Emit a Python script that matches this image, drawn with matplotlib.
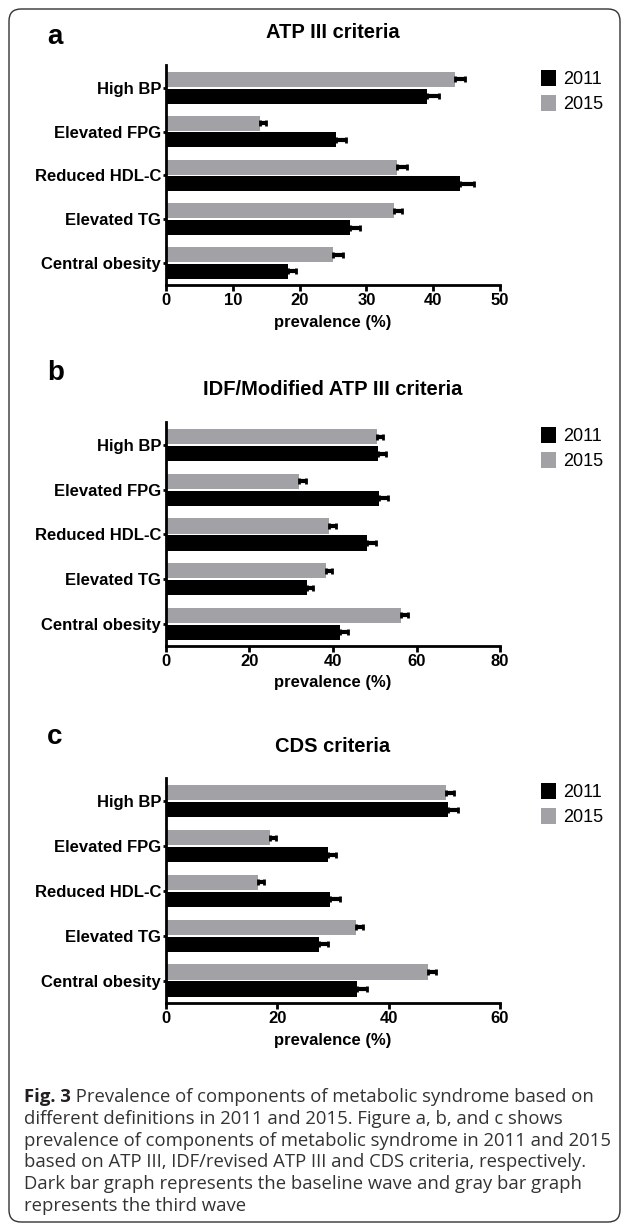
import matplotlib.pyplot as plt
import numpy as np
from matplotlib.patches import FancyBboxPatch, Patch

plt.rcParams["font.family"] = ["Liberation Sans", "DejaVu Sans"]

W, H = 627, 1228

components = ["High BP", "Elevated FPG", "Reduced HDL-C", "Elevated TG", "Central obesity"]
years = ["2011", "2015"]

# ATP III criteria
atp_2011 = [39.1, 25.4, 44.0, 27.5, 18.2]
atp_2015 = [43.2, 14.0, 34.6, 34.1, 25.0]
atp_err_2011 = [1.8, 1.5, 2.1, 1.6, 1.2]
atp_err_2015 = [1.5, 1.0, 1.5, 1.3, 1.5]

# IDF / modified ATP III criteria
idf_2011 = [50.8, 51.0, 48.2, 33.7, 41.7]
idf_2015 = [50.5, 31.8, 39.0, 38.3, 56.2]
idf_err_2011 = [1.9, 2.1, 2.0, 1.5, 1.8]
idf_err_2015 = [1.4, 1.7, 1.6, 1.4, 1.7]

# CDS criteria
cds_2011 = [50.7, 29.1, 29.5, 27.5, 34.4]
cds_2015 = [50.3, 18.7, 16.6, 34.1, 47.0]
cds_err_2011 = [1.8, 1.4, 1.7, 1.6, 1.7]
cds_err_2015 = [1.4, 1.1, 1.0, 1.3, 1.5]

caption_lines = [
    " Prevalence of components of metabolic syndrome based on",
    "different definitions in 2011 and 2015. Figure a, b, and c shows",
    "prevalence of components of metabolic syndrome in 2011 and 2015",
    "based on ATP III, IDF/revised ATP III and CDS criteria, respectively.",
    "Dark bar graph represents the baseline wave and gray bar graph",
    "represents the third wave",
]

GRAY = "#a2a2a6"
AX_LEFT, AX_RIGHT = 166, 500


def fx(px):
    return px / W


def fy(py):
    return 1 - py / H


def draw_panel(fig, top, bottom, letter, letter_y, title, title_y,
               v11, v15, e11, e15, xmax, step):
    ax = fig.add_axes([fx(AX_LEFT), fy(bottom), (AX_RIGHT - AX_LEFT) / W, (bottom - top) / H])
    y = np.arange(len(components))
    zeros = np.zeros(len(components))
    ax.barh(y - 0.19, v15, height=0.34, color=GRAY, zorder=2)
    ax.barh(y + 0.19, v11, height=0.34, color="black", zorder=2)
    ax.errorbar(v15, y - 0.19, xerr=[zeros, e15], fmt="none", ecolor="black",
                elinewidth=3, capsize=2.5, capthick=2, zorder=3)
    ax.errorbar(v11, y + 0.19, xerr=[zeros, e11], fmt="none", ecolor="black",
                elinewidth=3, capsize=2.5, capthick=2, zorder=3)

    ax.set_xlim(0, xmax)
    ax.set_xticks(np.arange(0, xmax + 1, step))
    ax.set_ylim(4.5, -0.52)
    ax.set_yticks(y)
    ax.set_yticklabels(components)
    for s in ["top", "right"]:
        ax.spines[s].set_visible(False)
    for s in ["left", "bottom"]:
        ax.spines[s].set_linewidth(2)
    ax.tick_params(axis="x", width=2, length=4, labelsize=12, pad=2)
    ax.tick_params(axis="y", width=2, length=2.5, labelsize=12, pad=1)
    for lab in ax.get_xticklabels() + ax.get_yticklabels():
        lab.set_fontweight("bold")

    cx = (AX_LEFT + AX_RIGHT) / 2
    fig.text(fx(cx), fy(bottom + 37), "prevalence (%)", ha="center", va="center",
             fontsize=12, fontweight="bold")
    fig.text(fx(cx), fy(title_y), title, ha="center", va="center",
             fontsize=14.5, fontweight="bold")
    fig.text(fx(47), fy(letter_y), letter, ha="left", va="center",
             fontsize=20, fontweight="bold")

    handles = [Patch(facecolor="black"), Patch(facecolor=GRAY)]
    fig.legend(handles, years, loc="upper left", bbox_to_anchor=(fx(541), fy(top + 5)),
               frameon=False, borderpad=0, borderaxespad=0, handlelength=0.85,
               handleheight=1.0, handletextpad=0.4, labelspacing=0.35, fontsize=13)
    return ax


fig = plt.figure(figsize=(W / 100, H / 100), dpi=100)

border = FancyBboxPatch((0.09, 0.06), 6.11, 12.13,
                        boxstyle="round,pad=0,rounding_size=0.12",
                        transform=fig.dpi_scale_trans, fill=False,
                        edgecolor="#333333", linewidth=1.0)
fig.patches.append(border)

draw_panel(fig, 65, 285, "a", 37, "ATP III criteria", 33,
           atp_2011, atp_2015, atp_err_2011, atp_err_2015, 50, 10)
draw_panel(fig, 422, 646, "b", 373, "IDF/Modified ATP III criteria", 390,
           idf_2011, idf_2015, idf_err_2011, idf_err_2015, 80, 20)
draw_panel(fig, 778, 1003, "c", 737, "CDS criteria", 747,
           cds_2011, cds_2015, cds_err_2011, cds_err_2015, 60, 20)

# caption
cap_x, cap_y, cap_dy = 24, 1097, 21.8
cap_font = ["Open Sans", "DejaVu Sans"]
fig_lbl = fig.text(fx(cap_x), fy(cap_y), "Fig. 3", ha="left", va="center",
                   fontsize=13.3, fontweight="bold", family=cap_font, color="#231f20")
renderer = fig.canvas.get_renderer()
lbl_w = fig_lbl.get_window_extent(renderer).width
for i, line in enumerate(caption_lines):
    x0 = cap_x + lbl_w if i == 0 else cap_x
    fig.text(fx(x0), fy(cap_y + i * cap_dy), line, ha="left", va="center",
             fontsize=13.3, family=cap_font, color="#333333")

fig.savefig("out.png", dpi=100)
